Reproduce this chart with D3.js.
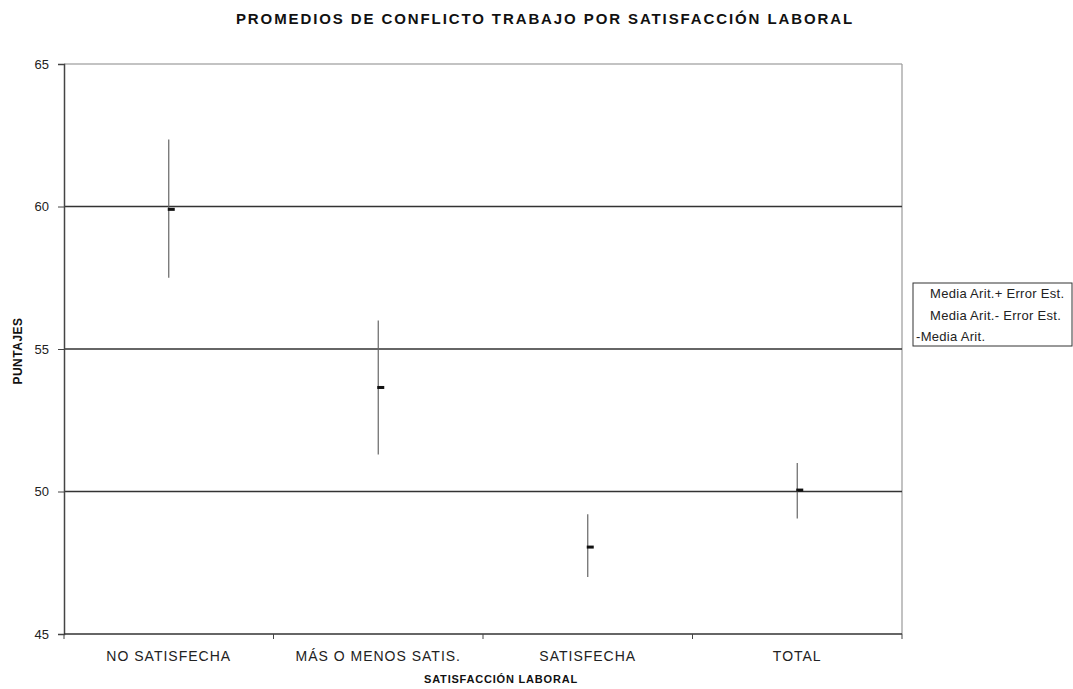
<!DOCTYPE html>
<html>
<head>
<meta charset="utf-8">
<script src="https://cdn.jsdelivr.net/npm/d3@7"></script>
<style>
  body { margin: 0; background: #fff; }
  text { font-family: "Liberation Sans", Arial, sans-serif; }
</style>
</head>
<body>
<svg id="chart" width="1073" height="689"></svg>
<script>
// data
const categories = ["NO SATISFECHA", "MÁS O MENOS SATIS.", "SATISFECHA", "TOTAL"];
const meanValues = [59.9, 53.65, 48.05, 50.05];
const upperValues = [62.35, 56.0, 49.2, 51.0];   // media + error est.
const lowerValues = [57.5, 51.3, 47.0, 49.05];   // media - error est.
const yTicks = [45, 50, 55, 60, 65];
const legendLabels = ["Media Arit.+ Error Est.", "Media Arit.- Error Est.", "-Media Arit."];

const svg = d3.select("#chart");
const margin = { top: 64, right: 171, bottom: 55, left: 64 };
const width = 1073 - margin.left - margin.right;
const height = 689 - margin.top - margin.bottom;

const x = d3.scaleBand().domain(categories).range([0, width]);
const y = d3.scaleLinear().domain([45, 65]).range([height, 0]);

const g = svg.append("g").attr("transform", `translate(${margin.left},${margin.top})`);

// plot frame (top and right lighter)
g.append("line").attr("x1", 0).attr("x2", width).attr("y1", 0).attr("y2", 0)
  .attr("stroke", "#888").attr("stroke-width", 1.2);
g.append("line").attr("x1", width).attr("x2", width).attr("y1", 0).attr("y2", height)
  .attr("stroke", "#999").attr("stroke-width", 1.2);

// gridlines
g.selectAll(".grid")
  .data(yTicks.filter(t => t > 45 && t < 65))
  .enter().append("line")
  .attr("x1", 0).attr("x2", width)
  .attr("y1", d => y(d)).attr("y2", d => y(d))
  .attr("stroke", "#333").attr("stroke-width", 1.3);

// y axis
const yAxis = g.append("g")
  .call(d3.axisLeft(y).tickValues(yTicks).tickSize(6).tickPadding(9));
yAxis.select(".domain").attr("stroke", "#444").attr("stroke-width", 1.5);
yAxis.selectAll(".tick line").attr("stroke", "#444");
yAxis.selectAll("text").style("font-size", "13px").attr("fill", "#222");

// x axis with ticks at category boundaries
const xAxis = g.append("g").attr("transform", `translate(0,${height})`);
xAxis.append("line").attr("x1", 0).attr("x2", width)
  .attr("stroke", "#333").attr("stroke-width", 1.5);
const bounds = categories.map(c => x(c)).concat([width]);
xAxis.selectAll(".xt").data(bounds).enter().append("line")
  .attr("x1", d => d).attr("x2", d => d)
  .attr("y1", 0).attr("y2", 5)
  .attr("stroke", "#444");
xAxis.selectAll(".xl").data(categories).enter().append("text")
  .attr("x", d => x(d) + x.bandwidth() / 2)
  .attr("y", 27)
  .attr("text-anchor", "middle")
  .style("font-size", "14px")
  .style("letter-spacing", "1px")
  .attr("fill", "#222")
  .text(d => d);

// error bars
const rows = categories.map((c, i) => ({ c, mean: meanValues[i], hi: upperValues[i], lo: lowerValues[i] }));
g.selectAll(".err").data(rows).enter().append("line")
  .attr("x1", d => x(d.c) + x.bandwidth() / 2)
  .attr("x2", d => x(d.c) + x.bandwidth() / 2)
  .attr("y1", d => y(d.hi)).attr("y2", d => y(d.lo))
  .attr("stroke", "#666").attr("stroke-width", 1.2);

// mean markers
g.selectAll(".mean").data(rows).enter().append("rect")
  .attr("x", d => x(d.c) + x.bandwidth() / 2 - 1)
  .attr("y", d => y(d.mean) - 1.5)
  .attr("width", 7).attr("height", 3)
  .attr("fill", "#111");

// title
svg.append("text")
  .attr("x", 545).attr("y", 24)
  .attr("text-anchor", "middle")
  .style("font-size", "15px").style("font-weight", "bold")
  .style("letter-spacing", "1.9px")
  .attr("fill", "#111")
  .text("PROMEDIOS DE CONFLICTO TRABAJO POR SATISFACCIÓN LABORAL");

// axis titles
svg.append("text")
  .attr("x", 501).attr("y", 683)
  .attr("text-anchor", "middle")
  .style("font-size", "11px").style("font-weight", "bold")
  .style("letter-spacing", "0.8px")
  .attr("fill", "#111")
  .text("SATISFACCIÓN LABORAL");

svg.append("text")
  .attr("transform", "rotate(-90)")
  .attr("x", -351).attr("y", 22)
  .attr("text-anchor", "middle")
  .style("font-size", "12px").style("font-weight", "bold")
  .style("letter-spacing", "0.5px")
  .attr("fill", "#111")
  .text("PUNTAJES");

// legend
const legend = svg.append("g").attr("transform", "translate(913,283)");
legend.append("rect")
  .attr("width", 159).attr("height", 63)
  .attr("fill", "#fff").attr("stroke", "#333").attr("stroke-width", 1);
legend.selectAll("text").data(legendLabels).enter().append("text")
  .attr("x", (d, i) => i === 2 ? 3 : 17)
  .attr("y", (d, i) => 15 + i * 21.5)
  .style("font-size", "13px")
  .style("letter-spacing", "0.3px")
  .attr("fill", "#222")
  .text(d => d);
</script>
</body>
</html>
